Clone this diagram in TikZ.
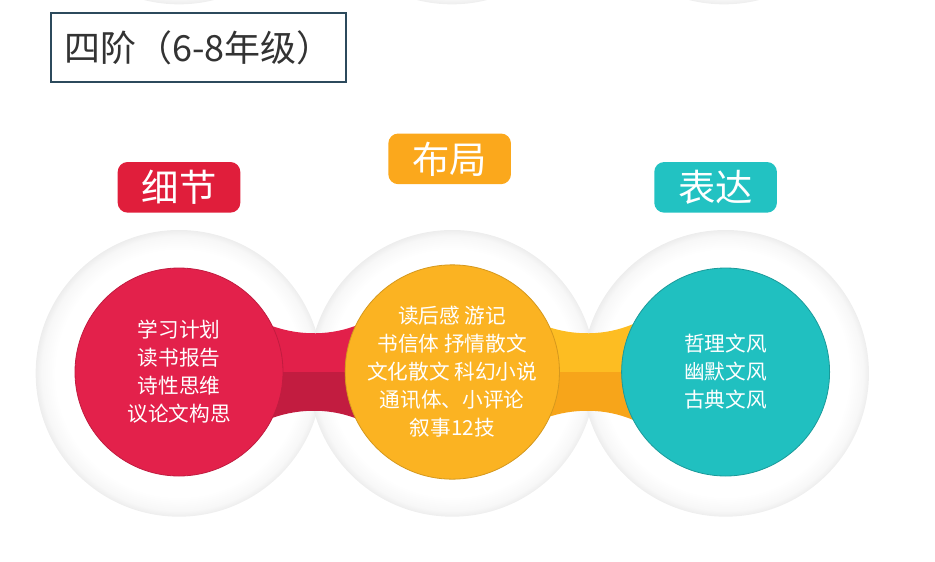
\documentclass[tikz,border=0pt]{standalone}
\usepackage{fontspec}
\setmainfont{Noto Sans CJK SC}
\usepackage{xcolor}
\usepackage{tikz}
\usetikzlibrary{positioning,backgrounds}

\definecolor{titleline}{HTML}{2C4A5C}
\definecolor{titletext}{HTML}{333333}
\definecolor{redc}{HTML}{E3214B}
\definecolor{redt}{HTML}{E01E3B}
\definecolor{orac}{HTML}{FBB322}
\definecolor{orat}{HTML}{FBA81C}
\definecolor{teac}{HTML}{20C0C0}
\definecolor{teat}{HTML}{22C2C2}
\definecolor{bandrl}{HTML}{E2204A}
\definecolor{bandrd}{HTML}{C21C40}
\definecolor{bandol}{HTML}{FDBD22}
\definecolor{bandod}{HTML}{F7A51A}
\pgfdeclareradialshading{haloshade}{\pgfpoint{0bp}{0bp}}{%
  color(0bp)=(white); color(21.5bp)=(white); color(24bp)=(black!3);
  color(25bp)=(black!7); color(50bp)=(black!7)}

\begin{document}
\begin{tikzpicture}[x=0.75pt,y=-0.75pt,
    node distance=46pt,
    disc/.style={circle,minimum size=156pt,inner sep=0pt,line width=0.6pt,
                 text=white,align=center,
                 font=\fontsize{15.5pt}{21pt}\selectfont},
    tag/.style={rounded corners=7.5pt,minimum width=92pt,minimum height=38pt,
                inner sep=0pt,text=white,font=\fontsize{28pt}{30pt}\selectfont},
    halo/.style={shading=haloshade}]
  \useasboundingbox (0,0) rectangle (935,561);

  \node[draw=titleline,line width=1.1pt,minimum width=221pt,minimum height=52pt,
        text=titletext,font=\fontsize{27pt}{30pt}\selectfont]
        (title) at (198.5,47.5) {四阶（6-8年级）};

  \node[disc,fill=redc,draw=redc!85!black] (detail) at (179,372)
        {学习计划\\读书报告\\诗性思维\\议论文构思};
  \node[disc,fill=orac,draw=orac!85!black,right=of detail] (layout)
        {读后感 游记\\书信体 抒情散文\\文化散文 科幻小说\\通讯体、小评论\\叙事12技};
  \node[disc,fill=teac,draw=teac!80!black,right=of layout] (express)
        {哲理文风\\幽默文风\\古典文风};

  \node[tag,fill=redt,above=41pt of detail] (detailtag) {细节};
  \node[tag,fill=orat,above=60pt of layout,xshift=-2pt] (layouttag) {布局};
  \node[tag,fill=teat,above=41pt of express,xshift=-7.5pt] (expresstag) {表达};

  \begin{scope}[on background layer]
    \begin{scope}
      \clip (0,0) rectangle (935,561);
      \foreach \cx in {179,452,724}
        \shade[halo] (\cx,-139) circle (107.5pt);
    \end{scope}
    \foreach \n in {detail,layout,express}
      \shade[halo] ([yshift=-1pt]\n.center) circle (107.5pt);
    \foreach \a/\lt/\dk in {detail/bandrl/bandrd,layout/bandol/bandod}{
      \begin{scope}[shift={(\a.center)}]
        \fill[\lt] (60,0) -- (60,-52) -- (93,-46)
          .. controls (121,-36) and (153,-36) .. (181,-48)
          -- (213,-52) -- (213,0) -- cycle;
        \fill[\dk] (60,0) -- (60,52) -- (93,46)
          .. controls (121,36) and (153,36) .. (181,48)
          -- (213,52) -- (213,0) -- cycle;
      \end{scope}
    }
  \end{scope}
\end{tikzpicture}
\end{document}
